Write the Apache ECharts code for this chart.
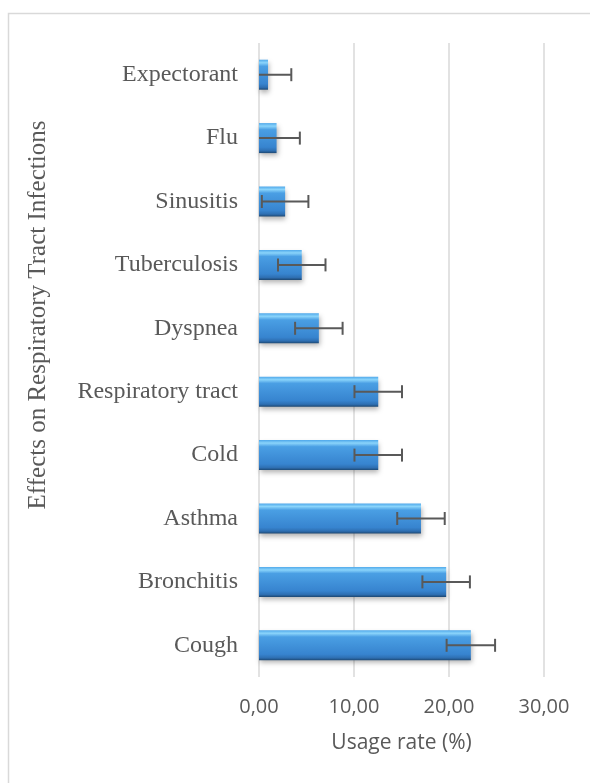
<!DOCTYPE html>
<html>
<head>
<meta charset="utf-8">
<script src="https://cdn.jsdelivr.net/npm/echarts@6/dist/echarts.min.js"></script>
<style>
  html, body { margin: 0; padding: 0; background: #fff; }
  #graph { width: 590px; height: 783px; }
</style>
</head>
<body>
<div id="graph"></div>
<script>
"use strict"

// bottom to top, as the category axis draws them
const categories = ["Cough", "Bronchitis", "Asthma", "Cold", "Respiratory tract",
    "Dyspnea", "Tuberculosis", "Sinusitis", "Flu", "Expectorant"];
const usage = [22.3, 19.7, 17.05, 12.55, 12.55, 6.3, 4.5, 2.75, 1.85, 0.95];
const errors = [2.55, 2.5, 2.5, 2.5, 2.5, 2.5, 2.5, 2.45, 2.45, 2.45];
const xTicks = [0, 10, 20, 30];

const grey = "#595959";

const barStyle = {
    color: {
        type: "linear", x: 0, y: 0, x2: 0, y2: 1,
        colorStops: [
            { offset: 0, color: "#4fa8ea" },
            { offset: 0.1, color: "#8ad4fb" },
            { offset: 0.22, color: "#4a9fe4" },
            { offset: 0.8, color: "#3784cf" },
            { offset: 0.92, color: "#2e6fb2" },
            { offset: 1, color: "#1d4873" }
        ]
    },
    shadowBlur: 5,
    shadowOffsetX: 1,
    shadowOffsetY: 3,
    shadowColor: "rgba(0,0,0,0.3)"
};

const errData = usage.map((v, i) => [i, v - errors[i], v + errors[i]]);

function renderError(params, api)
{
    const idx = api.value(0);
    const lo = api.coord([api.value(1), idx]);
    const hi = api.coord([api.value(2), idx]);
    const half = 6.5;
    const st = { stroke: grey, lineWidth: 2 };
    return {
        type: "group",
        children: [
            { type: "line", shape: { x1: lo[0], y1: lo[1], x2: hi[0], y2: hi[1] }, style: st },
            { type: "line", shape: { x1: lo[0], y1: lo[1] - half, x2: lo[0], y2: lo[1] + half }, style: st },
            { type: "line", shape: { x1: hi[0], y1: hi[1] - half, x2: hi[0], y2: hi[1] + half }, style: st }
        ]
    };
}

const myChart = echarts.init(document.getElementById("graph"), null, { renderer: "canvas" });

myChart.setOption({
    animation: false,
    grid: { left: 259, right: 46, top: 43, bottom: 106 },
    graphic: [
        {
            type: "rect",
            shape: { x: 8.5, y: 13.5, width: 600, height: 800 },
            style: { fill: "none", stroke: "#d9d9d9", lineWidth: 1.5 },
            z: -1
        },
        {
            type: "text",
            x: 38, y: 315,
            rotation: Math.PI / 2,
            style: {
                text: "Effects on Respiratory Tract Infections",
                font: "25px 'Liberation Serif'",
                fill: grey,
                align: "center",
                verticalAlign: "middle"
            }
        }
    ],
    xAxis: {
        type: "value",
        min: xTicks[0],
        max: xTicks[xTicks.length - 1],
        interval: 10,
        name: "Usage rate (%)",
        nameLocation: "middle",
        nameGap: 56,
        nameTextStyle: { fontFamily: "Open Sans", fontSize: 21, color: grey },
        axisLine: { show: false },
        axisTick: { show: false },
        axisLabel: {
            margin: 20,
            fontFamily: "Open Sans",
            fontSize: 20,
            color: grey,
            formatter: v => v.toFixed(2).replace(".", ",")
        },
        splitLine: { lineStyle: { color: "#d9d9d9", width: 1.5 } }
    },
    yAxis: {
        type: "category",
        data: categories,
        axisLine: { show: false },
        axisTick: { show: false },
        axisLabel: {
            margin: 21,
            fontFamily: "Liberation Serif",
            fontSize: 24,
            color: grey
        }
    },
    series: [
        {
            type: "bar",
            data: usage,
            barWidth: 30,
            itemStyle: barStyle
        },
        {
            type: "custom",
            renderItem: renderError,
            data: errData,
            encode: { x: [1, 2], y: 0 },
            clip: true,
            z: 5
        }
    ]
});
</script>
</body>
</html>
